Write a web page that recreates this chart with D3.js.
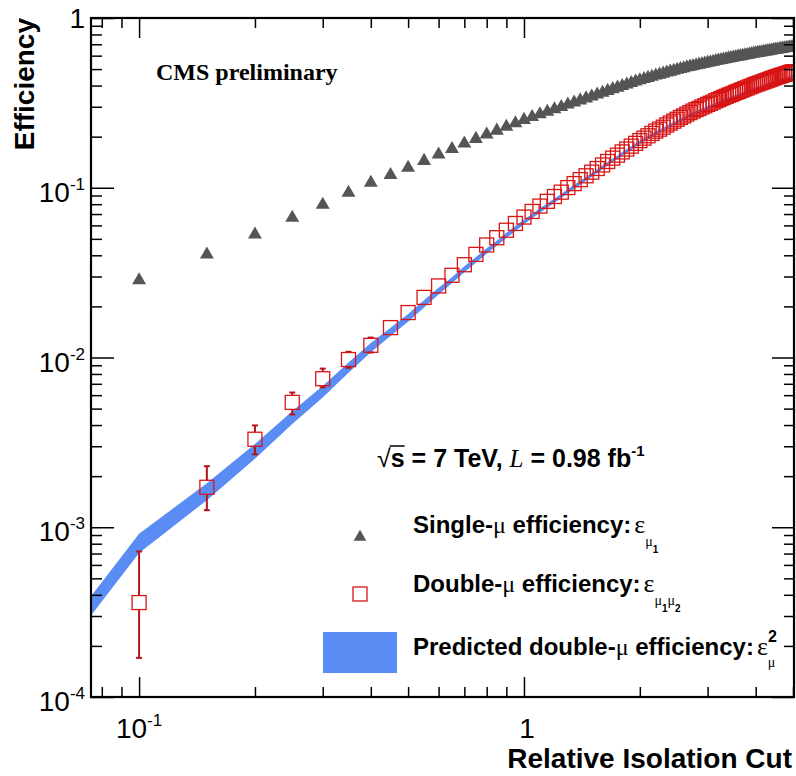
<!DOCTYPE html>
<html>
<head>
<meta charset="utf-8">
<script src="https://cdn.jsdelivr.net/npm/d3@7"></script>
<style>
  html, body { margin: 0; padding: 0; background: #fff; }
  svg { display: block; }
</style>
</head>
<body>
<svg id="chart" width="796" height="776"></svg>
<script>
// Relative isolation cut values (x) shared by the measured series
const cutValues = [0.10,0.15,0.20,0.25,0.30,0.35,0.40,0.45,0.50,0.55,0.60,0.65,0.70,0.75,0.80,0.85,0.90,0.95,1.00,
  1.05,1.10,1.15,1.20,1.25,1.30,1.35,1.40,1.45,1.50,
  1.55,1.60,1.65,1.70,1.75,1.80,1.85,1.90,1.95,2.00,
  2.05,2.10,2.15,2.20,2.25,2.30,2.35,2.40,2.45,2.50,
  2.55,2.60,2.65,2.70,2.75,2.80,2.85,2.90,2.95,3.00,
  3.05,3.10,3.15,3.20,3.25,3.30,3.35,3.40,3.45,3.50,
  3.55,3.60,3.65,3.70,3.75,3.80,3.85,3.90,3.95,4.00,
  4.05,4.10,4.15,4.20,4.25,4.30,4.35,4.40,4.45,4.50,
  4.55,4.60,4.65,4.70,4.75,4.80,4.85,4.90,4.95,5.00];

// Single-muon efficiency
const singleEff = [0.0285,0.0404,0.053,0.0666,0.0794,0.0935,0.107,0.119,0.131,0.144,0.157,0.169,0.182,0.194,0.206,0.217,0.229,0.240,0.251,
  0.261,0.271,0.280,0.290,0.299,0.309,0.318,0.327,0.336,0.345,
  0.354,0.363,0.372,0.381,0.389,0.398,0.406,0.414,0.422,0.430,
  0.437,0.444,0.451,0.458,0.464,0.470,0.477,0.483,0.489,0.495,
  0.501,0.506,0.512,0.517,0.522,0.527,0.531,0.536,0.540,0.545,
  0.549,0.553,0.558,0.562,0.566,0.570,0.574,0.578,0.581,0.585,
  0.589,0.592,0.596,0.599,0.603,0.606,0.610,0.613,0.617,0.620,
  0.623,0.626,0.629,0.632,0.635,0.638,0.641,0.644,0.647,0.650,
  0.653,0.655,0.658,0.660,0.663,0.665,0.668,0.670,0.673,0.675];

// Double-muon efficiency (measured)
const doubleEff = [0.00036,0.00172,0.0033,0.00544,0.0075,0.00973,0.0118,0.0150,0.0184,0.0226,0.0264,0.0305,0.0352,0.0405,0.0460,0.0508,0.0562,0.0616,0.0672,
  0.0725,0.0780,0.0832,0.0888,0.0942,0.1002,0.1058,0.1116,0.1176,0.1236,
  0.1298,0.1362,0.1428,0.1494,0.1556,0.1626,0.1690,0.1758,0.1826,0.1896,
  0.1960,0.2024,0.2090,0.2156,0.2214,0.2274,0.2344,0.2406,0.2468,0.2532,
  0.2596,0.2650,0.2716,0.2772,0.2830,0.2886,0.2934,0.2992,0.3040,0.3098,
  0.3146,0.3196,0.3256,0.3306,0.3356,0.3406,0.3456,0.3506,0.3546,0.3596,
  0.3648,0.3688,0.3740,0.3780,0.3832,0.3872,0.3926,0.3966,0.4020,0.4060,
  0.4100,0.4142,0.4182,0.4224,0.4266,0.4306,0.4348,0.4390,0.4432,0.4474,
  0.4516,0.4544,0.4586,0.4614,0.4656,0.4684,0.4728,0.4756,0.4800,0.4828];

// Asymmetric uncertainties of the first double-muon points (beyond these they sit inside the markers)
const doubleErrDown = [0.00019,0.00046,0.00061,0.00082,0.00083,0.00103,0.0011];
const doubleErrUp   = [0.00036,0.00057,0.00068,0.00078,0.0011,0.00107,0.0013];

// Predicted double-muon efficiency band (starts one step earlier, at 0.05)
const predictedCuts = [0.05].concat(cutValues);
const predictedEff = [0.000105,0.00081,0.00163,0.00281,0.00444,0.0063,0.00874,0.01145,0.01416,0.01716,0.02074,0.02465,0.02856,0.03312,0.03764,0.04244,0.04709,0.05244,0.0576,0.0630,
  0.0681,0.0734,0.0784,0.0841,0.0894,0.0955,0.1011,0.1069,0.1129,0.1190,
  0.1253,0.1318,0.1384,0.1452,0.1513,0.1584,0.1648,0.1714,0.1781,0.1849,
  0.1910,0.1971,0.2034,0.2098,0.2153,0.2209,0.2275,0.2333,0.2391,0.2450,
  0.2510,0.2560,0.2621,0.2673,0.2725,0.2777,0.2820,0.2873,0.2916,0.2970,
  0.3014,0.3058,0.3114,0.3158,0.3204,0.3249,0.3295,0.3341,0.3376,0.3422,
  0.3469,0.3505,0.3552,0.3588,0.3636,0.3672,0.3721,0.3758,0.3807,0.3844,
  0.3881,0.3919,0.3956,0.3994,0.4032,0.4070,0.4109,0.4147,0.4186,0.4225,
  0.4264,0.4290,0.4330,0.4356,0.4396,0.4422,0.4462,0.4489,0.4529,0.4556];
// Relative half-width of the prediction band, in percent
const predictedRelErr = [13,13,11.4,10,8.5,7.8,7,6.3,5.6,5.2,4.9,4.5,4.1,4.1,3.8,3.8,3.4,3.4,3.4,3.1,
  3.0,3.0,2.9,2.9,2.8,2.8,2.7,2.7,2.6,2.6,
  2.6,2.5,2.5,2.5,2.4,2.4,2.4,2.3,2.3,2.3,
  2.3,2.2,2.2,2.2,2.2,2.1,2.1,2.1,2.1,2.0,
  2.0,2.0,2.0,2.0,1.9,1.9,1.9,1.9,1.9,1.9,
  1.8,1.8,1.8,1.8,1.8,1.8,1.8,1.7,1.7,1.7,
  1.7,1.7,1.7,1.7,1.7,1.6,1.6,1.6,1.6,1.6,
  1.6,1.6,1.6,1.6,1.5,1.5,1.5,1.5,1.5,1.5,
  1.5,1.5,1.5,1.5,1.5,1.5,1.4,1.4,1.4,1.4];

// Axis ticks
const xMajorTicks = [0.1, 1];
const xMinorTicks = [0.08,0.09,0.2,0.3,0.4,0.5,0.6,0.7,0.8,0.9,2,3,4,5];
const yMajorTicks = [1e-4,1e-3,1e-2,1e-1,1];
const yMinorTicks = [];
[1e-4,1e-3,1e-2,1e-1].forEach(d => { for (let k = 2; k <= 9; k++) yMinorTicks.push(+(d*k).toPrecision(3)); });
const xTickLabels = [{v:0.1, base:"10", exp:"-1"}, {v:1, base:"1", exp:""}];
const yTickLabels = [{v:1, base:"1", exp:""},{v:1e-1, base:"10", exp:"-1"},{v:1e-2, base:"10", exp:"-2"},{v:1e-3, base:"10", exp:"-3"},{v:1e-4, base:"10", exp:"-4"}];

const SANS = "'Liberation Sans', Arial, Helvetica, sans-serif";
const SERIF = "'Liberation Serif', 'Times New Roman', serif";
const BLUE = "#5a8df4";
const RED = "#d81414";
const ERR_RED = "#b3141a";
const GREY = "#555555";

const frame = {left: 91, right: 794, top: 18, bottom: 697};
const x = d3.scaleLog().domain([0.075, 5.03]).range([frame.left, frame.right]);
const y = d3.scaleLog().domain([1e-4, 1]).range([frame.bottom, frame.top]);

const svg = d3.select("#chart");
svg.append("rect").attr("width", 796).attr("height", 776).attr("fill", "#fff");

svg.append("defs").append("clipPath").attr("id", "plot-clip")
  .append("rect")
  .attr("x", frame.left).attr("y", frame.top)
  .attr("width", frame.right - frame.left).attr("height", frame.bottom - frame.top);

const plot = svg.append("g").attr("clip-path", "url(#plot-clip)");

// Prediction band
const band = predictedCuts.map((c, i) => ({c, v: predictedEff[i], r: predictedRelErr[i] / 100}));
plot.append("path")
  .datum(band)
  .attr("d", d3.area()
    .x(d => x(d.c))
    .y0(d => y(d.v * (1 - d.r)))
    .y1(d => y(d.v * (1 + d.r))))
  .attr("fill", BLUE);

// Double-muon points with error bars
const half = 7;
const doubles = cutValues.map((c, i) => ({c, v: doubleEff[i], lo: doubleErrDown[i], hi: doubleErrUp[i]}));
const errG = plot.append("g").attr("stroke", ERR_RED).attr("stroke-width", 2).attr("fill", "none");
doubles.filter(d => d.lo !== undefined).forEach(d => {
  const cx = x(d.c), cy = y(d.v);
  const yTop = y(d.v + d.hi), yBot = y(d.v - d.lo);
  if (cy - half > yTop) {
    errG.append("line").attr("x1", cx).attr("x2", cx).attr("y1", cy - half).attr("y2", yTop);
    errG.append("line").attr("x1", cx - 3).attr("x2", cx + 3).attr("y1", yTop).attr("y2", yTop);
  }
  if (yBot > cy + half) {
    errG.append("line").attr("x1", cx).attr("x2", cx).attr("y1", cy + half).attr("y2", yBot);
    errG.append("line").attr("x1", cx - 3).attr("x2", cx + 3).attr("y1", yBot).attr("y2", yBot);
  }
});
plot.append("g").selectAll("rect").data(doubles).join("rect")
  .attr("x", d => x(d.c) - half).attr("y", d => y(d.v) - half)
  .attr("width", 2 * half).attr("height", 2 * half)
  .attr("fill", "none").attr("stroke", RED).attr("stroke-width", 1.3);

// Single-muon points
const tri = d3.symbol().type(d3.symbolTriangle).size(84);
plot.append("g").selectAll("path").data(cutValues.map((c, i) => ({c, v: singleEff[i]}))).join("path")
  .attr("transform", d => `translate(${x(d.c)},${y(d.v)})`)
  .attr("d", tri)
  .attr("fill", GREY);

// Axes: ticks pointing inward on all four sides
function styleAxis(g) {
  g.select(".domain").remove();
  g.selectAll(".tick line").attr("stroke", "#000").attr("stroke-width", 1.5);
  g.selectAll(".tick text").remove();
}
const axes = svg.append("g");
axes.append("g").attr("transform", `translate(0,${frame.bottom})`)
  .call(d3.axisBottom(x).tickValues(xMajorTicks).tickSize(-20).tickSizeOuter(0)).call(styleAxis);
axes.append("g").attr("transform", `translate(0,${frame.bottom})`)
  .call(d3.axisBottom(x).tickValues(xMinorTicks).tickSize(-10).tickSizeOuter(0)).call(styleAxis);
axes.append("g").attr("transform", `translate(0,${frame.top})`)
  .call(d3.axisTop(x).tickValues(xMajorTicks).tickSize(-20).tickSizeOuter(0)).call(styleAxis);
axes.append("g").attr("transform", `translate(0,${frame.top})`)
  .call(d3.axisTop(x).tickValues(xMinorTicks).tickSize(-10).tickSizeOuter(0)).call(styleAxis);
axes.append("g").attr("transform", `translate(${frame.left},0)`)
  .call(d3.axisLeft(y).tickValues(yMajorTicks).tickSize(-23).tickSizeOuter(0)).call(styleAxis);
axes.append("g").attr("transform", `translate(${frame.left},0)`)
  .call(d3.axisLeft(y).tickValues(yMinorTicks).tickSize(-11).tickSizeOuter(0)).call(styleAxis);
axes.append("g").attr("transform", `translate(${frame.right},0)`)
  .call(d3.axisRight(y).tickValues(yMajorTicks).tickSize(-22).tickSizeOuter(0)).call(styleAxis);
axes.append("g").attr("transform", `translate(${frame.right},0)`)
  .call(d3.axisRight(y).tickValues(yMinorTicks).tickSize(-10).tickSizeOuter(0)).call(styleAxis);

svg.append("rect")
  .attr("x", frame.left).attr("y", frame.top)
  .attr("width", frame.right - frame.left).attr("height", frame.bottom - frame.top)
  .attr("fill", "none").attr("stroke", "#000").attr("stroke-width", 2.2);

// Tick labels
function powerLabel(g, d, px, py, anchor) {
  const t = g.append("text").attr("x", px).attr("y", py)
    .attr("font-family", SANS).attr("font-size", 28).attr("text-anchor", anchor).attr("fill", "#000");
  t.append("tspan").text(d.base);
  if (d.exp) t.append("tspan").attr("font-size", 17).attr("dy", -12).text(d.exp);
}
const labels = svg.append("g");
yTickLabels.forEach(d => powerLabel(labels, d, 85, y(d.v) + (d.exp ? 14 : 10), "end"));
xTickLabels.forEach(d => powerLabel(labels, d, x(d.v) + (d.exp ? 0 : 3), 738, "middle"));

// Axis titles
svg.append("text")
  .attr("x", 792).attr("y", 768).attr("text-anchor", "end")
  .attr("font-family", SANS).attr("font-weight", "bold").attr("font-size", 28)
  .text("Relative Isolation Cut");
svg.append("text")
  .attr("transform", "translate(34,18) rotate(-90)").attr("text-anchor", "end")
  .attr("font-family", SANS).attr("font-weight", "bold").attr("font-size", 28)
  .text("Efficiency");

// Labels inside the frame
svg.append("text")
  .attr("x", 156).attr("y", 80)
  .attr("font-family", SERIF).attr("font-weight", "bold").attr("font-size", 24)
  .text("CMS preliminary");

const energy = svg.append("text")
  .attr("x", 377).attr("y", 467)
  .attr("font-family", SANS).attr("font-weight", "bold").attr("font-size", 25);
energy.append("tspan").attr("font-weight", "normal").text("\u221A");
energy.append("tspan").text("s = 7 TeV, ");
energy.append("tspan").attr("font-family", SERIF).attr("font-style", "italic").attr("font-weight", "normal").text("L");
energy.append("tspan").text(" = 0.98 fb");
energy.append("tspan").attr("font-size", 15).attr("dy", -11).text("-1");
{
  const n = energy.node();
  const root = n.getExtentOfChar(0);
  const s = n.getExtentOfChar(1);
  svg.append("line")
    .attr("x1", root.x + root.width - 1).attr("x2", s.x + s.width)
    .attr("y1", root.y + 2).attr("y2", root.y + 2)
    .attr("stroke", "#000").attr("stroke-width", 1.5);
}

// Legend
const legend = svg.append("g");
legend.append("path")
  .attr("transform", `translate(360,537)`)
  .attr("d", d3.symbol().type(d3.symbolTriangle).size(70))
  .attr("fill", GREY);
legend.append("rect")
  .attr("x", 360 - half).attr("y", 594 - half).attr("width", 2 * half).attr("height", 2 * half)
  .attr("fill", "none").attr("stroke", RED).attr("stroke-width", 1.3);
legend.append("rect")
  .attr("x", 323).attr("y", 632).attr("width", 74).attr("height", 41)
  .attr("fill", BLUE);

function legendText(yBase, lead, tail) {
  const t = legend.append("text").attr("x", 413).attr("y", yBase)
    .attr("font-family", SANS).attr("font-weight", "bold").attr("font-size", 24);
  t.append("tspan").text(lead);
  t.append("tspan").attr("font-family", SERIF).attr("font-weight", "normal").text("\u03BC");
  t.append("tspan").text(" efficiency:");
  t.append("tspan").attr("dx", 3).attr("font-family", SERIF).attr("font-weight", "normal").attr("font-size", 26).text("\u03B5");
  tail(t);
}
legendText(533, "Single-", t => {
  t.append("tspan").attr("dy", 13).attr("font-family", SERIF).attr("font-weight", "normal").attr("font-size", 14).text("\u03BC");
  t.append("tspan").attr("dy", 7).attr("font-size", 10).text("1");
});
legendText(592, "Double-", t => {
  t.append("tspan").attr("dy", 13).attr("font-family", SERIF).attr("font-weight", "normal").attr("font-size", 14).text("\u03BC");
  t.append("tspan").attr("dy", 7).attr("font-size", 10).text("1");
  t.append("tspan").attr("dy", -7).attr("font-family", SERIF).attr("font-weight", "normal").attr("font-size", 14).text("\u03BC");
  t.append("tspan").attr("dy", 7).attr("font-size", 10).text("2");
});
legendText(655, "Predicted double-", t => {
  t.append("tspan").attr("dy", -13).attr("font-size", 16).text("2");
  t.append("tspan").attr("dx", -9).attr("dy", 25).attr("font-family", SERIF).attr("font-weight", "normal").attr("font-size", 14).text("\u03BC");
});
</script>
</body>
</html>
